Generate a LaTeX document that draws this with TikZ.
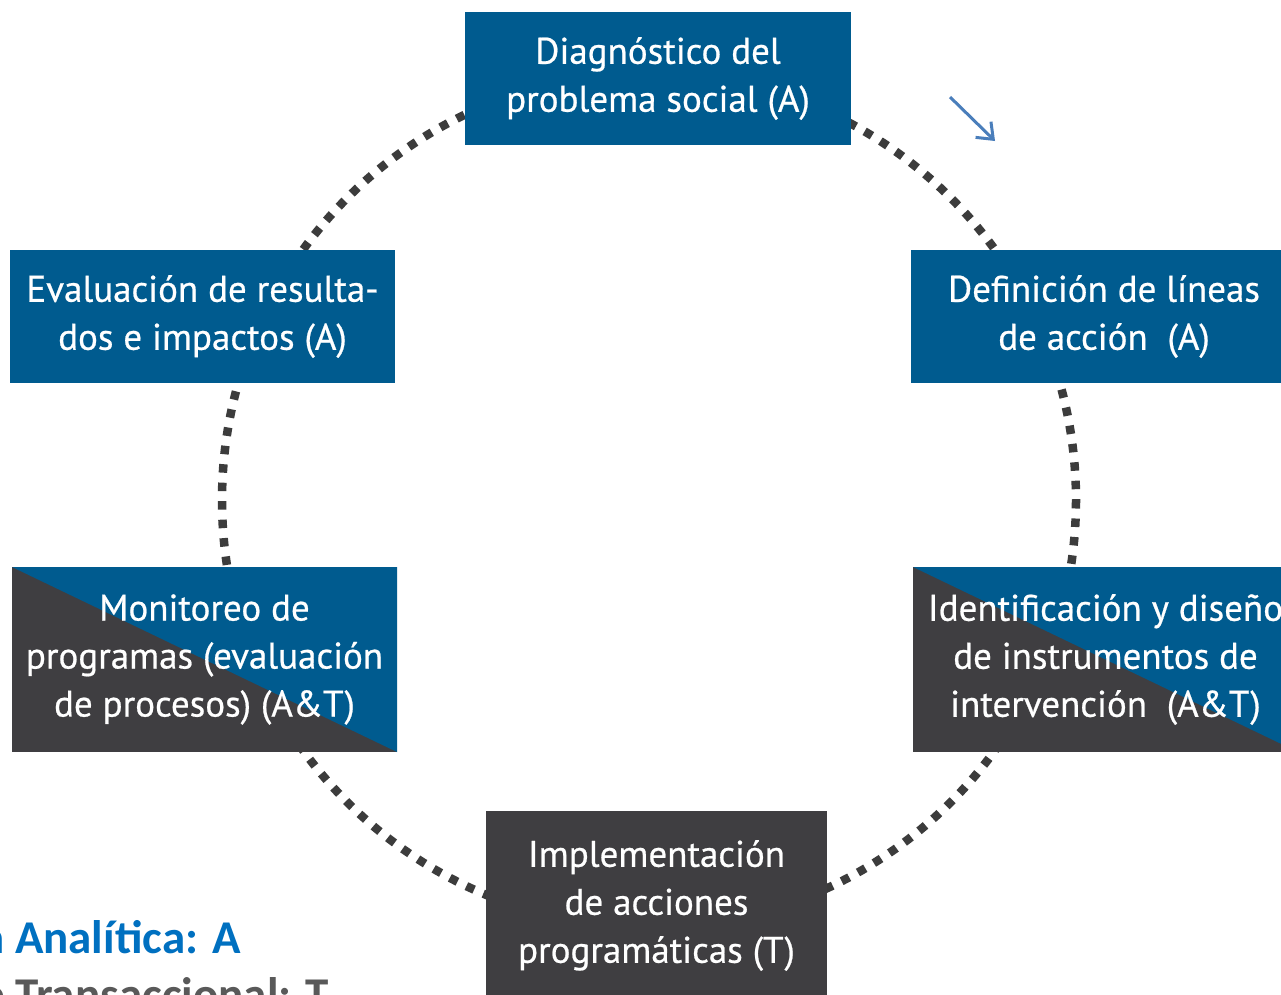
\documentclass[tikz,border=0pt]{standalone}
\usepackage{fontspec}
\setmainfont{PT Sans}
\newfontfamily\stagefont{PT Sans}[FakeBold=0.6]
\newfontfamily\legendfont{Carlito}
\usetikzlibrary{arrows.meta}

\definecolor{boxblue}{HTML}{005B8F}
\definecolor{boxgray}{HTML}{3F3E41}
\definecolor{ringgray}{HTML}{3C3C3C}
\definecolor{arrowblue}{HTML}{4A7EBB}
\definecolor{legblue}{HTML}{0070C0}
\definecolor{leggray}{HTML}{595959}

\tikzset{
 stage/.style={rectangle,fill=boxblue,text=white,align=center,inner sep=0pt,
  minimum width=385pt,minimum height=133pt,font=\stagefont\fontsize{37}{48}\selectfont},
 mixed/.style={stage,fill=boxgray,minimum height=185pt,
  path picture={\fill[boxblue] (path picture bounding box.north west)
   -- (path picture bounding box.north east)
   -- (path picture bounding box.south east) -- cycle;}},
 ring/.style={ringgray,line width=8.5pt,dash pattern=on 8.5pt off 10pt},
 pointer/.style={arrowblue,line width=3pt,-{Straight Barb[length=14pt,width=22pt]}},
 legend/.style={anchor=base west,inner sep=0pt,font=\legendfont\bfseries\fontsize{47}{56}\selectfont}
}

\begin{document}
\begin{tikzpicture}[x=1pt,y=-1pt]
 \clip (0,0) rectangle (1281,994);
 \useasboundingbox (0,0) rectangle (1281,994);
 \fill[white] (0,0) rectangle (1281,994);

 % dotted cycle behind the stages
 \coordinate (ctr) at (649,500);
 \draw[ring] (ctr) circle[radius=427];

 \node[stage,minimum width=386pt] (diag) at (658,78.5) {Diagn\'ostico del\\problema social (A)};
 \node[stage,minimum width=386pt] (defin) at (1104,316.5) {Definici\'on de l\'ineas\\de acci\'on~ (A)};
 \node[mixed] (ident) at (1105.5,659.5) {Identificaci\'on y dise\~no\\de instrumentos de\\intervenci\'on~ (A\&T)};
 \node[stage,fill=boxgray,minimum width=341pt,minimum height=189pt] (impl) at (656.5,905.5) {Implementaci\'on\\de acciones\\program\'aticas (T)};
 \node[mixed] (monit) at (204.5,659.5) {Monitoreo de\\programas (evaluaci\'on\\de procesos) (A\&T)};
 \node[stage] (eval) at (202.5,316.5) {Evaluaci\'on de resulta-\\dos e impactos (A)};

 % blue arrow
 \coordinate (arrA) at (950,97);
 \coordinate (arrB) at (995,141);
 \draw[pointer] (arrA) -- (arrB);

 % legend
 \node[legend,text=legblue] (legA) at (-19,953) {a Anal\'itica: A};
 \node[legend,text=leggray] (legT) at (-19,1010) {e Transaccional: T};
\end{tikzpicture}
\end{document}
